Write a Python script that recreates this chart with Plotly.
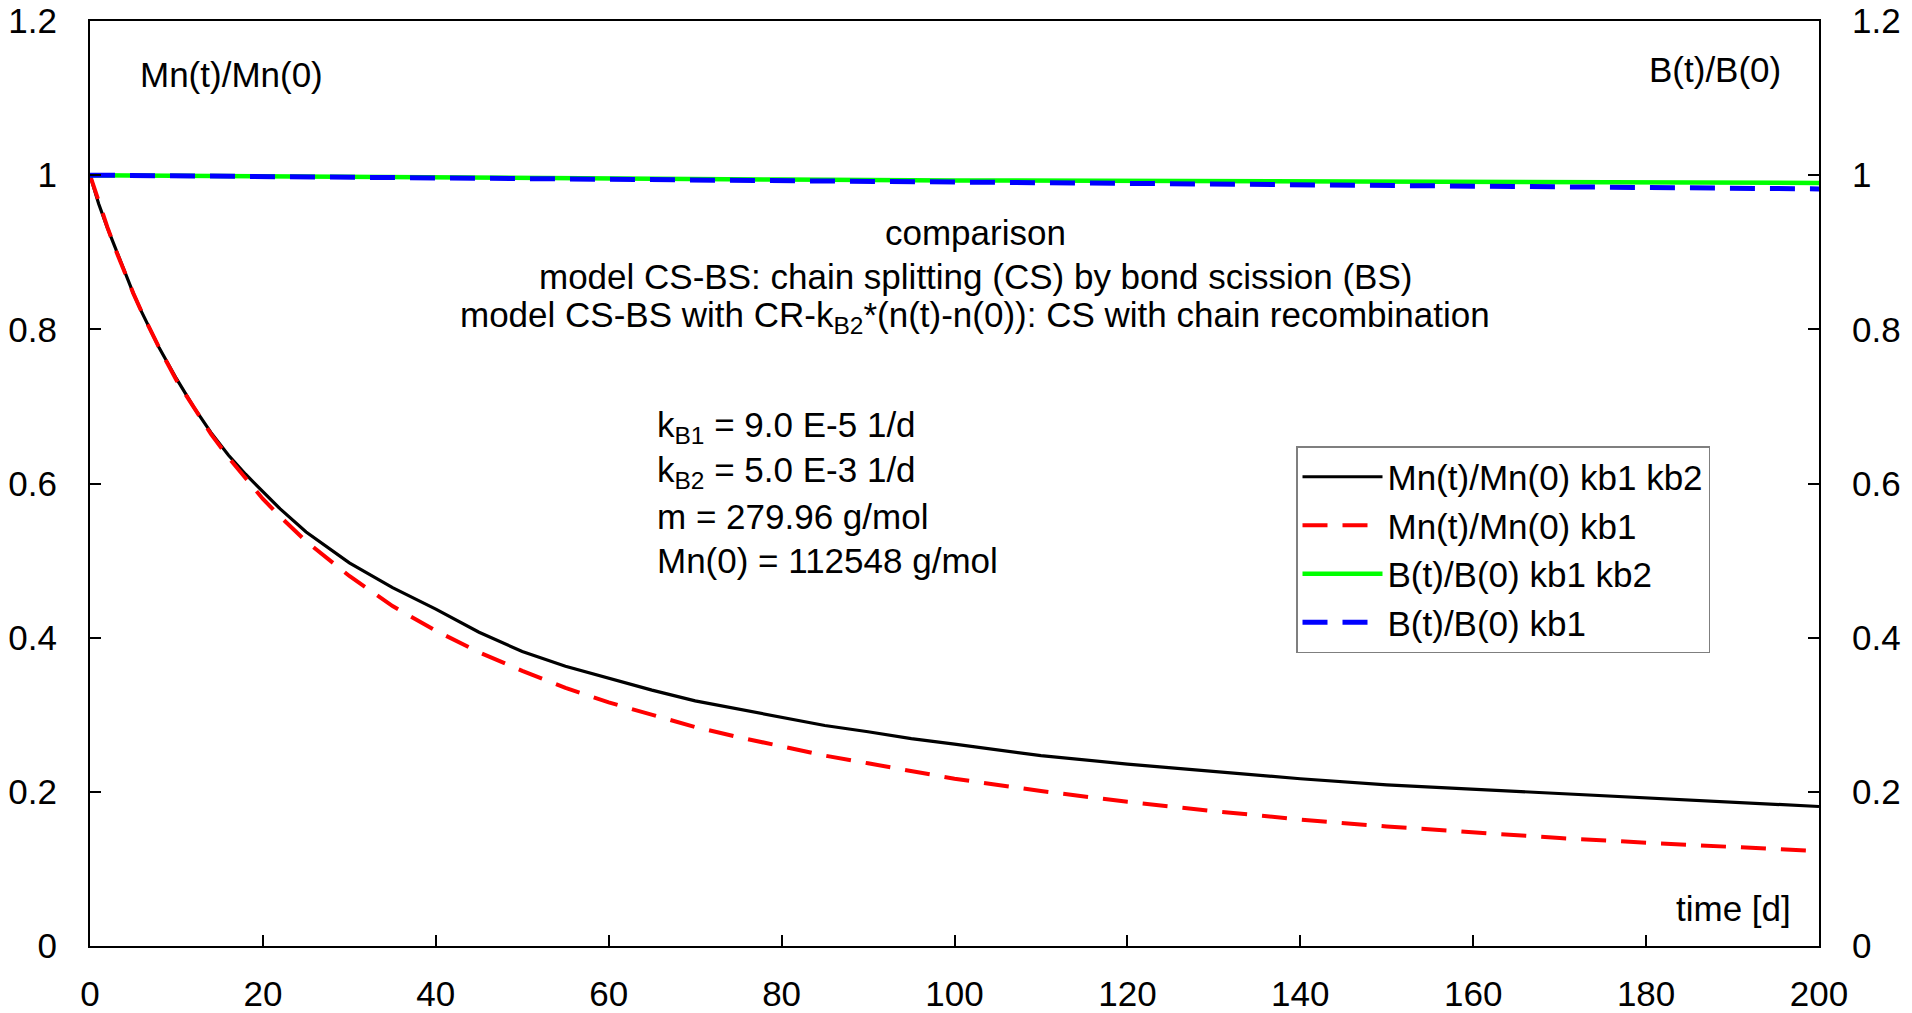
import plotly.graph_objects as go

# time axis [d] and sampled curves
t_mn = [0, 1, 2, 3, 4, 5, 6, 8, 10, 12, 14, 16, 18, 20, 22, 25, 30, 35, 40, 45,
        50, 55, 60, 65, 70, 75, 80, 85, 90, 95, 100, 110, 120, 130, 140, 150, 200]
mn_kb1_kb2 = [1.0, 0.963, 0.932, 0.903, 0.874, 0.847, 0.822, 0.776, 0.736, 0.699,
              0.666, 0.637, 0.612, 0.590, 0.567, 0.537, 0.497, 0.465, 0.437, 0.407,
              0.382, 0.363, 0.347, 0.332, 0.318, 0.307, 0.296, 0.286, 0.278, 0.269,
              0.262, 0.247, 0.236, 0.226, 0.217, 0.209, 0.181]

t_mn_kb1 = [0, 1, 2, 3, 4, 5, 6, 8, 10, 12, 14, 16, 18, 20, 22, 25, 30, 35, 40, 45,
            50, 55, 60, 65, 70, 75, 80, 85, 90, 95, 100, 110, 120, 130, 140, 150,
            160, 170, 180, 190, 200]
mn_kb1 = [1.0, 0.965, 0.933, 0.902, 0.874, 0.847, 0.822, 0.776, 0.734, 0.698,
          0.664, 0.634, 0.606, 0.580, 0.557, 0.525, 0.480, 0.441, 0.409, 0.381,
          0.357, 0.335, 0.316, 0.300, 0.284, 0.271, 0.259, 0.247, 0.237, 0.227,
          0.217, 0.201, 0.187, 0.175, 0.164, 0.155, 0.147, 0.140, 0.134, 0.128, 0.123]

t_b = [0, 20, 40, 60, 80, 100, 120, 140, 160, 180, 200]
b_kb1_kb2 = [1.0, 0.9983, 0.9968, 0.9955, 0.9943, 0.9932, 0.9924, 0.9917, 0.9911, 0.9905, 0.9899]
b_kb1 = [1.0, 0.9982, 0.9964, 0.9946, 0.9928, 0.9910, 0.9893, 0.9875, 0.9857, 0.9839, 0.9822]

x_ticks = [0, 20, 40, 60, 80, 100, 120, 140, 160, 180, 200]
y_ticks = [0, 0.2, 0.4, 0.6, 0.8, 1.0, 1.2]
y_tick_text = ["0", "0.2", "0.4", "0.6", "0.8", "1", "1.2"]

FONT = "Liberation Sans, Arial, sans-serif"
FS = 35
W, H = 1912, 1013
PLOT_L, PLOT_R, PLOT_T, PLOT_B = 90, 1819, 21, 946

fig = go.Figure()
fig.add_trace(go.Scatter(x=t_mn, y=mn_kb1_kb2, mode="lines", name="Mn(t)/Mn(0) kb1 kb2",
                         line=dict(color="black", width=3.2)))
fig.add_trace(go.Scatter(x=t_mn_kb1, y=mn_kb1, mode="lines", name="Mn(t)/Mn(0) kb1",
                         line=dict(color="#ff0000", width=4, dash="25px,15px")))
fig.add_trace(go.Scatter(x=t_b, y=b_kb1_kb2, mode="lines", name="B(t)/B(0) kb1 kb2",
                         line=dict(color="#00ff00", width=4.5), yaxis="y2"))
fig.add_trace(go.Scatter(x=t_b, y=b_kb1, mode="lines", name="B(t)/B(0) kb1",
                         line=dict(color="#0000ff", width=5, dash="25px,15px"), yaxis="y2"))

axis_common = dict(showgrid=False, zeroline=False, ticks="inside", ticklen=11, tickwidth=1.5,
                   tickcolor="black", linecolor="black", linewidth=2, showline=True,
                   automargin=False,
                   tickfont=dict(family=FONT, size=FS, color="black"))

fig.update_layout(
    width=W, height=H, autosize=False,
    margin=dict(l=PLOT_L, r=W - PLOT_R, t=PLOT_T, b=H - PLOT_B, pad=0),
    paper_bgcolor="white", plot_bgcolor="white",
    font=dict(family=FONT, size=FS, color="black"),
    xaxis=dict(range=[0, 200], tickvals=x_ticks, mirror=True, ticklabelstandoff=16, **axis_common),
    yaxis=dict(range=[0, 1.2], tickvals=y_ticks, ticktext=y_tick_text, ticklabelstandoff=24,
               **axis_common),
    yaxis2=dict(range=[0, 1.2], tickvals=y_ticks, ticktext=y_tick_text, overlaying="y",
                side="right", ticklabelstandoff=24, **axis_common),
    legend=dict(x=(1296 - PLOT_L) / (PLOT_R - PLOT_L), y=(PLOT_B - 446) / (PLOT_B - PLOT_T),
                xanchor="left", yanchor="top",
                bgcolor="white", bordercolor="#7f7f7f", borderwidth=1.5,
                font=dict(family=FONT, size=FS, color="black"), itemwidth=80),
    showlegend=True,
)

# text labels, placed by page pixel position
labels = [
    (231, 75, "Mn(t)/Mn(0)", "center"),
    (1715, 69, "B(t)/B(0)", "center"),
    (1793, 908, "time [d]", "right"),
    (975, 232, "comparison", "center"),
    (975, 276, "model CS-BS: chain splitting (CS) by bond scission (BS)", "center"),
    (975, 317, "model CS-BS with CR-k<sub>B2</sub>*(n(t)-n(0)): CS with chain recombination", "center"),
    (655, 427, "k<sub>B1</sub> = 9.0 E-5 1/d", "left"),
    (655, 472, "k<sub>B2</sub> = 5.0 E-3 1/d", "left"),
    (655, 516, "m = 279.96 g/mol", "left"),
    (655, 560, "Mn(0) = 112548 g/mol", "left"),
]
for px, py, text, anchor in labels:
    fig.add_annotation(x=(px - PLOT_L) / (PLOT_R - PLOT_L), y=(PLOT_B - py) / (PLOT_B - PLOT_T),
                       xref="paper", yref="paper", text=text, xanchor=anchor, yanchor="middle",
                       showarrow=False, font=dict(family=FONT, size=FS, color="black"))

fig.write_html("out.html")
